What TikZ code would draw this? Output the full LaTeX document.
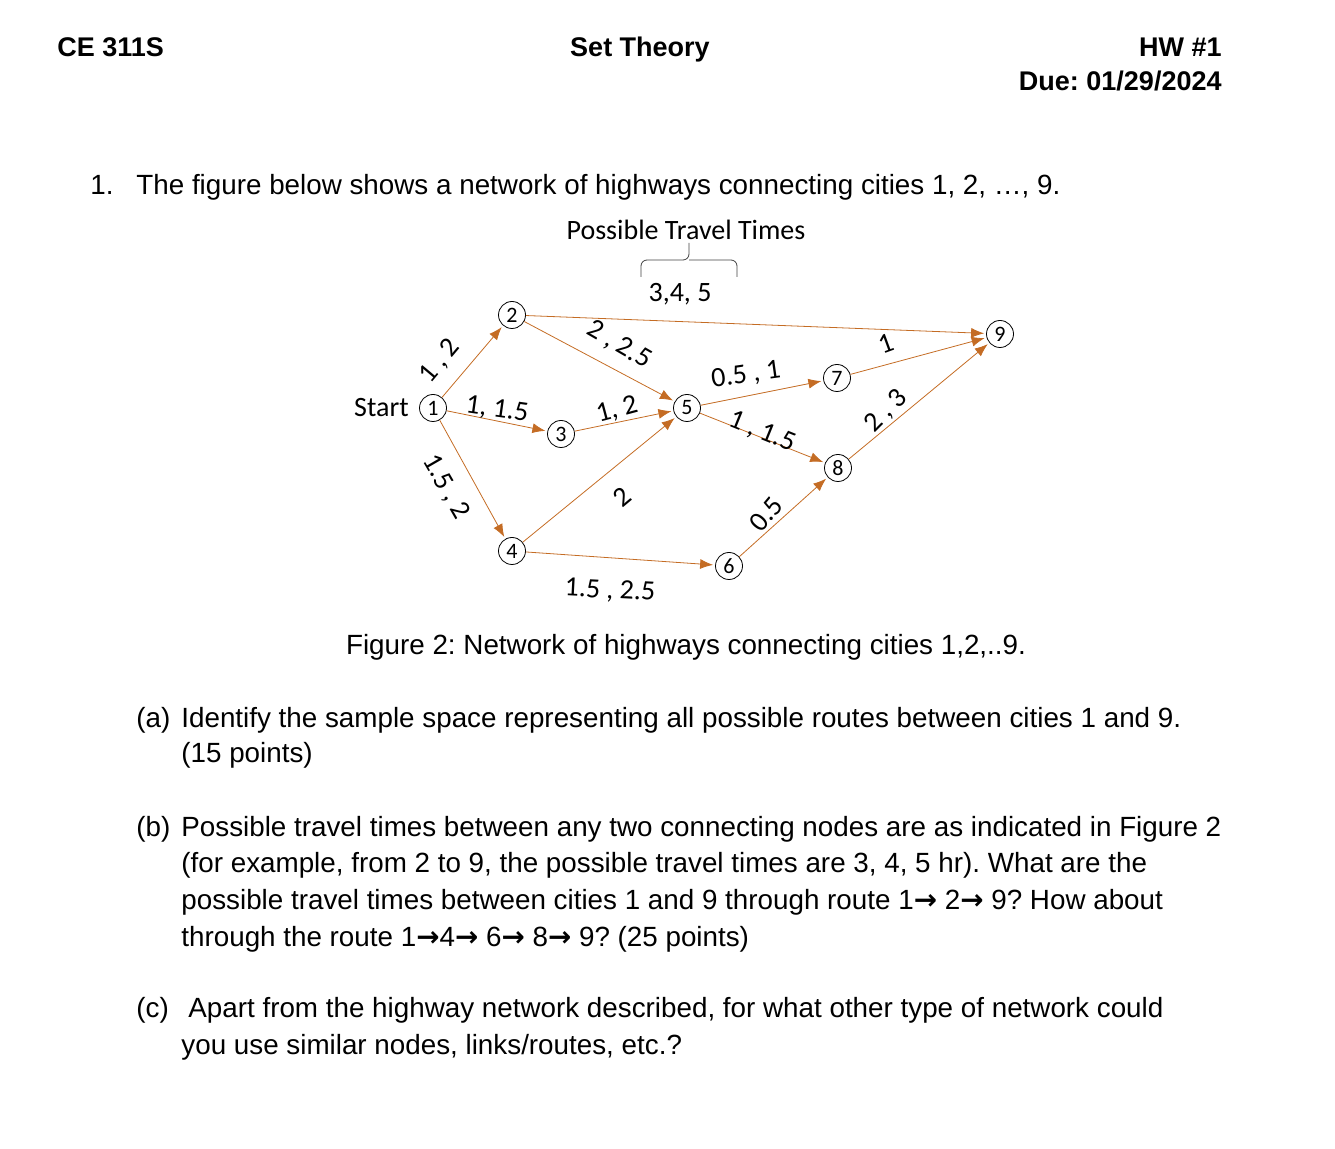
\documentclass[tikz,border=0pt]{standalone}
\usepackage{fontspec}
\setmainfont{Liberation Sans}
\newfontfamily\figfont{Carlito}
\newfontfamily\arrowfont{DejaVu Sans}
\usepackage{xcolor}
\usetikzlibrary{positioning, calc, arrows.meta}

\definecolor{road}{RGB}{196,108,36}
\newcommand{\goes}{{\arrowfont\bfseries →}}

\tikzset{
    city/.style={circle, draw, thin, minimum size=13.5pt, inner sep=0pt, font=\figfont\fontsize{11}{11}\selectfont},
    highway/.style={road, thin, ->, shorten >=1pt},
    tlabel/.style={inner sep=0pt, font=\figfont\fontsize{14}{14}\selectfont},
    body/.style={anchor=base west, inner sep=0pt, font=\fontsize{13.9}{16}\selectfont},
    head/.style={inner sep=0pt, font=\bfseries\fontsize{13.5}{16}\selectfont}
}

\begin{document}
\frenchspacing
\begin{tikzpicture}[x=0.5pt,y=-0.5pt,>={Latex[length=6.5pt,width=5pt]}]

    \useasboundingbox (0,0) rectangle (1335,1149);

    % Header
    \node[head, anchor=base west] (course) at (57,57) {CE 311S};
    \node[head, anchor=base] (topic) at (640,57) {Set Theory};
    \node[head, anchor=base east] (hw) at (1222,57) {HW \#1};
    \node[head, anchor=base east] (due) at (1222,91) {Due: 01/29/2024};

    % Question
    \node[body] (q1num) at (90,195) {1.};
    \node[body] (q1) at (136,195) {The figure below shows a network of highways connecting cities 1, 2, …, 9.};

    % Cities
    \node[city] (n1) at (433,408) {1};
    \node[city] (n2) at (512,315) {2};
    \node[city] (n3) at (561,434) {3};
    \node[city] (n4) at (512,551) {4};
    \node[city] (n5) at (687,408) {5};
    \node[city] (n6) at (729,566) {6};
    \node[city] (n7) at (837,378) {7};
    \node[city] (n8) at (838,468) {8};
    \node[city] (n9) at (1000,334) {9};
    \node[tlabel, left=5pt of n1] (start) {Start};

    % Highways
    \draw[highway] (n1) -- (n2);
    \draw[highway] (n1) -- (n3);
    \draw[highway] (n1) -- (n4);
    \draw[highway] (n2) -- (n9);
    \draw[highway] (n2) -- (n5);
    \draw[highway] (n3) -- (n5);
    \draw[highway] (n4) -- (n5);
    \draw[highway] (n4) -- (n6);
    \draw[highway] (n5) -- (n7);
    \draw[highway] (n5) -- (n8);
    \draw[highway] (n6) -- (n8);
    \draw[highway] (n7) -- (n9);
    \draw[highway] (n8) -- (n9);

    % Travel times
    \node[tlabel, rotate=50] (l12) at (440,361) {1 , 2};
    \node[tlabel, rotate=-8] (l13) at (497,410) {1, 1.5};
    \node[tlabel, rotate=-60] (l14) at (446,487) {1.5 , 2};
    \node[tlabel, rotate=-30] (l25) at (619,345) {2 , 2.5};
    \node[tlabel] (l29) at (680,294) {3,4, 5};
    \node[tlabel, rotate=15] (l35) at (617,410) {1, 2};
    \node[tlabel, rotate=40] (l45) at (622,497) {2};
    \node[tlabel, rotate=-3] (l46) at (610,591) {1.5 , 2.5};
    \node[tlabel, rotate=8] (l57) at (746,375) {0.5 , 1};
    \node[tlabel, rotate=-22] (l58) at (762,432) {1 , 1.5};
    \node[tlabel, rotate=50] (l68) at (766,514) {0.5};
    \node[tlabel, rotate=20] (l79) at (886,344) {1};
    \node[tlabel, rotate=45] (l89) at (886,411) {2 , 3};

    % Brace and title
    \node[tlabel] (title) at (686,230) {Possible Travel Times};
    \coordinate (bl) at (641,277);
    \coordinate (br) at (737,277);
    \coordinate (btip) at (689,243);
    \draw[thin, black!75, rounded corners=3pt] (bl) -- (641,260) -- (btip |- 0,260) -- (btip);
    \draw[thin, black!75, rounded corners=3pt] (br) -- (737,260) -- (btip |- 0,260);

    % Caption
    \node[body, anchor=base] (caption) at (686,655) {Figure 2: Network of highways connecting cities 1,2,..9.};

    % Part (a)
    \node[body] (pa) at (136,728) {(a)};
    \node[body] (pa1) at (181,728) {Identify the sample space representing all possible routes between cities 1 and 9.};
    \node[body] (pa2) at (181,763) {(15 points)};

    % Part (b)
    \node[body] (pb) at (136,837) {(b)};
    \node[body] (pb1) at (181,837) {Possible travel times between any two connecting nodes are as indicated in Figure 2};
    \node[body] (pb2) at (181,873) {(for example, from 2 to 9, the possible travel times are 3, 4, 5 hr). What are the};
    \node[body] (pb3) at (181,910) {possible travel times between cities 1 and 9 through route 1\goes{} 2\goes{} 9? How about};
    \node[body] (pb4) at (181,947) {through the route 1\goes4\goes{} 6\goes{} 8\goes{} 9? (25 points)};

    % Part (c)
    \node[body] (pc) at (136,1018) {(c)};
    \node[body] (pc1) at (188,1018) {Apart from the highway network described, for what other type of network could};
    \node[body] (pc2) at (181,1055) {you use similar nodes, links/routes, etc.?};

\end{tikzpicture}
\end{document}
